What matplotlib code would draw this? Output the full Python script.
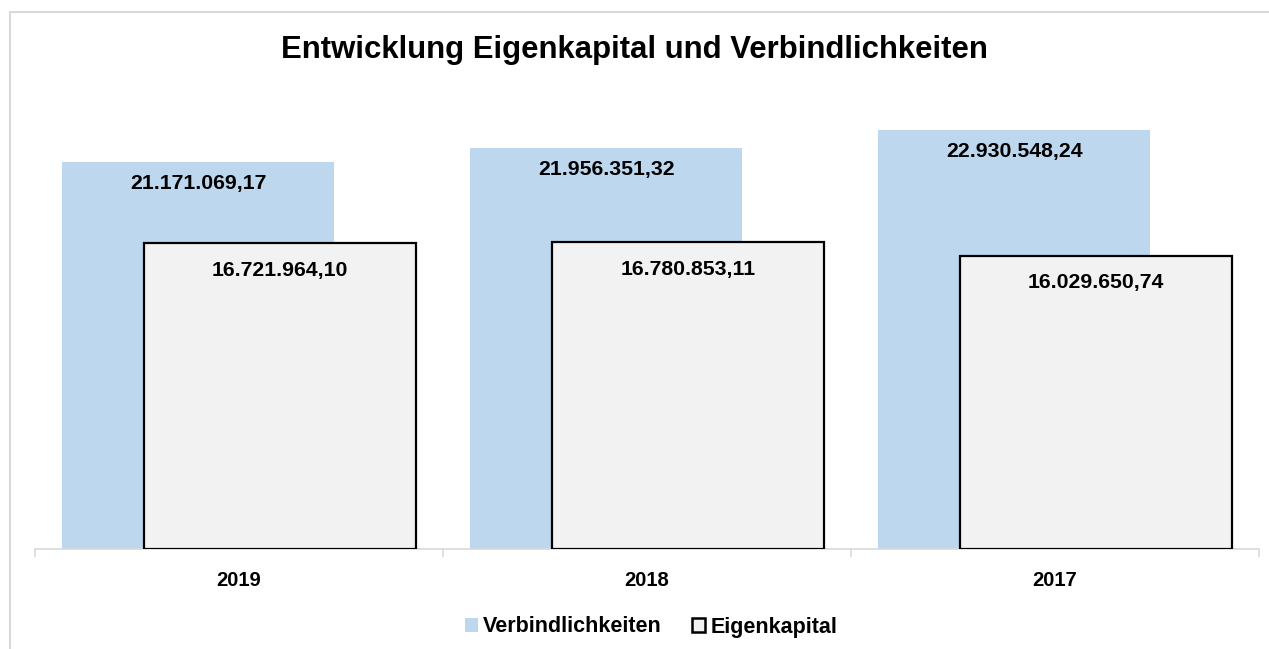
import matplotlib
matplotlib.use("Agg")
import matplotlib.pyplot as plt
from matplotlib.patches import Patch, Rectangle

plt.rcParams['font.family'] = ['Liberation Sans', 'DejaVu Sans']

years = ["2019", "2018", "2017"]
verbindlichkeiten = [21171069.17, 21956351.32, 22930548.24]
eigenkapital = [16721964.10, 16780853.11, 16029650.74]
verb_labels = ["21.171.069,17", "21.956.351,32", "22.930.548,24"]
eigen_labels = ["16.721.964,10", "16.780.853,11", "16.029.650,74"]

W, H = 1269, 649
fig = plt.figure(figsize=(W/100, H/100), dpi=100)
fig.patches.append(Rectangle((10/W, -0.2), 1.2, 1.2 - 12/H, transform=fig.transFigure,
                             fill=False, edgecolor='#D9D9D9', linewidth=1.5, zorder=0))

ax = fig.add_axes([35/W, (H-549)/H, (1259-35)/W, (549-92)/H])
x = list(range(len(years)))
bw = 0.667
off = 0.1
ax.bar([i - off for i in x], verbindlichkeiten, width=bw, color='#BDD7EE', zorder=2)
ax.bar([i + off for i in x], eigenkapital, width=bw, color='#F2F2F2',
       edgecolor='black', linewidth=1.6, zorder=3)

ax.set_xlim(-0.5, 2.5)
ax.set_ylim(0, 25e6)
for s in ['top', 'right', 'left']:
    ax.spines[s].set_visible(False)
ax.spines['bottom'].set_color('#D9D9D9')
ax.spines['bottom'].set_linewidth(1.2)
ax.set_yticks([])
ax.set_xticks([-0.5, 0.5, 1.5, 2.5])
ax.set_xticklabels([])
ax.set_xticks(x, minor=True)
ax.set_xticklabels(years, minor=True, fontsize=14.5, fontweight='bold')
ax.tick_params(axis='x', which='major', length=6, color='#D9D9D9', width=1.2)
ax.tick_params(axis='x', which='minor', length=0, pad=16)

for i in x:
    ax.annotate(verb_labels[i], (i - off, verbindlichkeiten[i]), xytext=(0, -22),
                textcoords='offset pixels', ha='center', va='center',
                fontsize=15.3, fontweight='bold', zorder=4)
    ax.annotate(eigen_labels[i], (i + off, eigenkapital[i]), xytext=(0, -27),
                textcoords='offset pixels', ha='center', va='center',
                fontsize=15.3, fontweight='bold', zorder=4)

fig.text(0.5, 1 - 50/H, "Entwicklung Eigenkapital und Verbindlichkeiten",
         ha='center', va='center', fontsize=22.4, fontweight='bold')

handles = [Patch(facecolor='#BDD7EE', edgecolor='none', label='Verbindlichkeiten'),
           Patch(facecolor='#F2F2F2', edgecolor='black', linewidth=1.8, label='Eigenkapital')]
fig.legend(handles=handles, loc='center', bbox_to_anchor=(651/W, 1 - 627/H), ncol=2,
           frameon=False, prop={'weight': 'bold', 'size': 15.5},
           handlelength=0.6, handleheight=0.6, handletextpad=0.25, columnspacing=1.4)

fig.savefig("out.png", dpi=100)
